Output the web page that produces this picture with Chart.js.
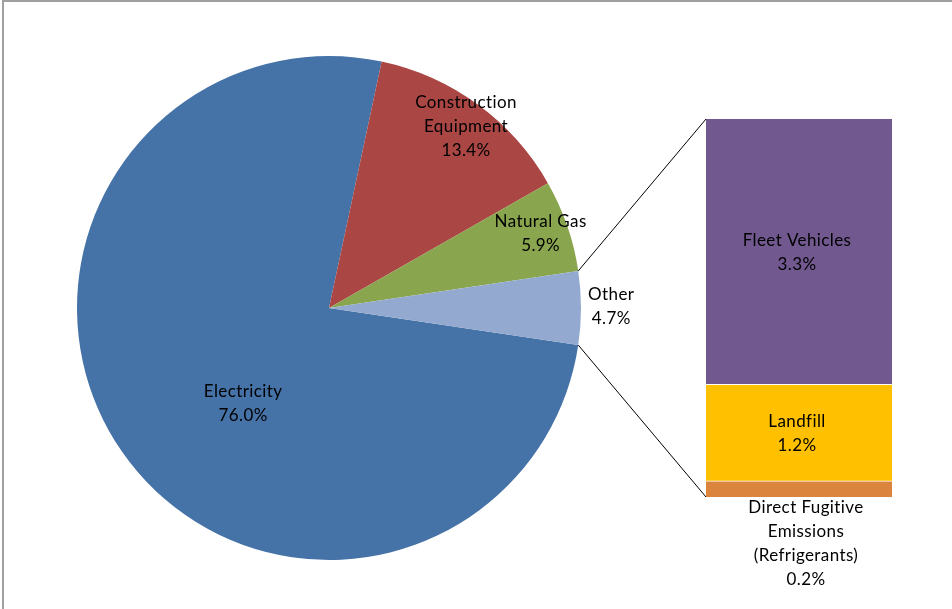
<!DOCTYPE html>
<html>
<head>
<meta charset="utf-8">
<script src="https://cdn.jsdelivr.net/npm/chart.js@4.4.1/dist/chart.umd.min.js"></script>
<style>
  body { margin: 0; background: #fff; }
  #wrap { position: relative; width: 952px; height: 609px; overflow: hidden; }
  #frame { position: absolute; left: 2px; top: 0; width: 960px; height: 620px;
           border-top: 2px solid #a0a0a0; border-left: 2px solid #a0a0a0; }
  canvas { position: absolute; left: 0; top: 0; }
</style>
</head>
<body>
<div id="wrap">
  <div id="frame"></div>
  <canvas id="pie" width="952" height="609"></canvas>
  <canvas id="bar" width="952" height="609"></canvas>
</div>
<script>
// emission sources, percent of total
const pieLabels = [['Electricity'], ['Construction', 'Equipment'], ['Natural Gas'], ['Other']];
const pieValues = [76.0, 13.4, 5.9, 4.7];
const pieColors = ['#4572A7', '#AA4643', '#89A54E', '#93A9CF'];

// breakdown of "Other", bottom to top
const otherLabels = [['Direct Fugitive', 'Emissions', '(Refrigerants)'], ['Landfill'], ['Fleet Vehicles']];
const otherValues = [0.2, 1.2, 3.3];
const otherColors = ['#DB843D', '#FFC000', '#71588F'];

const FONT = '17px Lato, "Open Sans", sans-serif';
const LINE_H = 24;

function pct(v) { return v.toFixed(1) + '%'; }

function drawLines(ctx, lines, x, y) {
    ctx.save();
    ctx.font = FONT;
    if ('letterSpacing' in ctx) ctx.letterSpacing = '0.4px';
    ctx.fillStyle = '#000';
    ctx.textAlign = 'center';
    ctx.textBaseline = 'middle';
    let top = y - (lines.length - 1) * LINE_H / 2;
    lines.forEach(function(t, i) {
        ctx.fillText(t, x, top + i * LINE_H);
    });
    ctx.restore();
}

// where each pie label sits: fraction of radius and a nudge off the mid angle (deg)
const pieLabelPlace = [{ r: 0.51, a: -13.3 }, { r: 0.904, a: 0.8 }, { r: 0.89, a: -0.25 }, { r: 1.12, a: -0.2 }];

const pieLabelPlugin = {
    id: 'pieLabels',
    afterDatasetsDraw(chart) {
        const ctx = chart.ctx;
        chart.getDatasetMeta(0).data.forEach(function(arc, i) {
            const p = arc.getProps(['x', 'y', 'startAngle', 'endAngle', 'outerRadius'], true);
            const place = pieLabelPlace[i];
            const mid = (p.startAngle + p.endAngle) / 2 + place.a * Math.PI / 180;
            const r = p.outerRadius * place.r;
            drawLines(ctx, pieLabels[i].concat([pct(pieValues[i])]),
                p.x + Math.cos(mid) * r, p.y + Math.sin(mid) * r);
        });
    }
};

const pieChart = new Chart(document.getElementById('pie'), {
    type: 'pie',
    data: {
        labels: pieLabels.map(function(l) { return l.join(' '); }),
        datasets: [{
            data: pieValues,
            backgroundColor: pieColors,
            borderWidth: 0
        }]
    },
    options: {
        responsive: false,
        animation: false,
        // start Electricity so that "Other" is centred on 3 o'clock
        rotation: 90 + pieValues[3] / 2 * 3.6,
        layout: { padding: { left: 77, top: 56, right: 371, bottom: 49 } },
        plugins: { legend: { display: false }, tooltip: { enabled: false } }
    },
    plugins: [pieLabelPlugin]
});

const barExtras = {
    id: 'barExtras',
    afterDatasetsDraw(chart) {
        const ctx = chart.ctx;
        const area = chart.chartArea;

        // connector lines from the "Other" slice to the bar
        const arc = pieChart.getDatasetMeta(0).data[3].getProps(['x', 'y', 'startAngle', 'endAngle', 'outerRadius'], true);
        ctx.save();
        ctx.strokeStyle = '#000';
        ctx.lineWidth = 1;
        ctx.beginPath();
        ctx.moveTo(arc.x + Math.cos(arc.startAngle) * arc.outerRadius, arc.y + Math.sin(arc.startAngle) * arc.outerRadius);
        ctx.lineTo(area.left, area.top);
        ctx.moveTo(arc.x + Math.cos(arc.endAngle) * arc.outerRadius, arc.y + Math.sin(arc.endAngle) * arc.outerRadius);
        ctx.lineTo(area.left, area.bottom);
        ctx.stroke();
        ctx.restore();

        // segment labels
        chart.data.datasets.forEach(function(ds, i) {
            const bar = chart.getDatasetMeta(i).data[0].getProps(['x', 'y', 'base'], true);
            const lines = otherLabels[i].concat([pct(otherValues[i])]);
            if (i === 0) {
                // too thin, label goes under the bar
                drawLines(ctx, lines, bar.x + 7, bar.base + 11 + (lines.length - 1) * LINE_H / 2);
            } else {
                drawLines(ctx, lines, bar.x - 2, (bar.y + bar.base) / 2 + 1);
            }
        });
    }
};

new Chart(document.getElementById('bar'), {
    type: 'bar',
    data: {
        labels: ['Other'],
        datasets: otherValues.map(function(v, i) {
            return {
                label: otherLabels[i].join(' '),
                data: [v],
                backgroundColor: otherColors[i],
                borderColor: '#fff',
                borderWidth: { top: i < 2 ? 1 : 0, left: 0, right: 0, bottom: 0 },
                borderSkipped: false,
                barPercentage: 1,
                categoryPercentage: 1
            };
        })
    },
    options: {
        responsive: false,
        animation: false,
        layout: { padding: { left: 706, top: 119, right: 60, bottom: 112 } },
        scales: {
            x: { stacked: true, display: false },
            y: { stacked: true, display: false, min: 0, max: pieValues[3] }
        },
        plugins: { legend: { display: false }, tooltip: { enabled: false } }
    },
    plugins: [barExtras]
});
</script>
</body>
</html>
